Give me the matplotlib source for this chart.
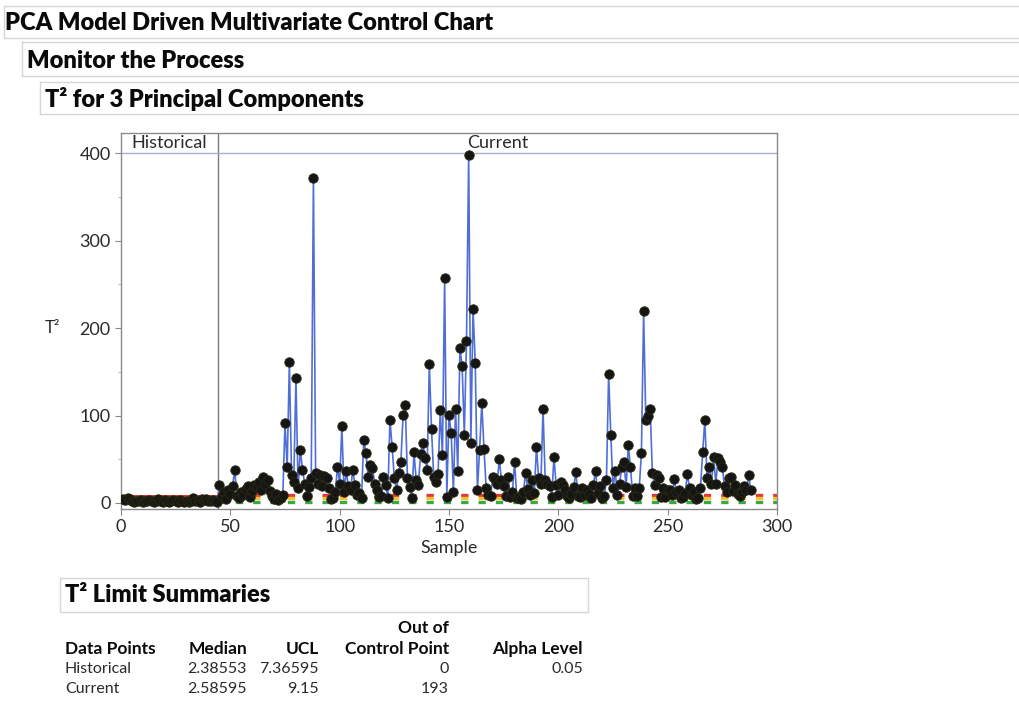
import matplotlib
matplotlib.use("Agg")
import matplotlib.pyplot as plt
from matplotlib.lines import Line2D
from matplotlib.patches import Rectangle
import numpy as np

plt.rcParams['font.family'] = ['Lato', 'DejaVu Sans']

# ---- data -------------------------------------------------------------
historical_t2 = [4.8, 3.1, 5.2, 4.6, 2.2, 1.5, 2.8, 1.9, 3.4, 0.9, 2.5, 1.7,
                 3.0, 2.1, 1.2, 2.6, 5.0, 2.0, 1.4, 3.3, 2.4, 0.8, 1.8, 2.9,
                 2.2, 1.1, 3.6, 2.7, 1.6, 2.3, 1.0, 2.5, 5.3, 1.9, 2.8, 1.3,
                 4.7, 3.9, 4.2, 2.0, 1.7, 3.2, 2.6, 1.5]

current_t2 = [
    20, 8, 12, 5, 15, 10, 19, 38, 8, 6, 12, 9, 16, 19, 7, 14, 20, 18, 24, 15,      # 45-64
    30, 22, 26, 14, 8, 5, 10, 3, 6, 9, 91, 41, 161, 32, 24, 143, 17, 61, 38, 22,   # 65-84
    8, 18, 28, 372, 34, 22, 32, 19, 31, 28, 17, 4, 6, 13, 41, 22, 88, 12, 36, 19,  # 85-104
    15, 38, 20, 9, 11, 6, 72, 57, 30, 43, 40, 22, 15, 7, 8, 30, 21, 6, 95, 64,     # 105-124
    28, 15, 34, 47, 101, 112, 28, 18, 6, 58, 26, 21, 56, 68, 51, 38, 159, 85, 30, 24,  # 125-144
    33, 106, 55, 257, 7, 101, 80, 13, 107, 37, 177, 157, 78, 185, 398, 69, 222, 160, 15, 61,  # 145-164
    114, 62, 17, 9, 8, 30, 27, 22, 50, 26, 19, 8, 30, 7, 13, 47, 6, 7, 5, 12,      # 165-184
    34, 16, 9, 26, 11, 64, 28, 22, 107, 26, 22, 19, 7, 53, 20, 9, 24, 21, 15, 8,   # 185-204
    6, 10, 18, 35, 8, 7, 17, 9, 15, 10, 6, 20, 37, 11, 19, 6, 8, 26, 147, 78,      # 205-224
    17, 36, 9, 22, 41, 47, 18, 66, 41, 8, 17, 8, 17, 57, 219, 95, 99, 108, 34, 20,  # 225-244
    32, 28, 7, 17, 7, 15, 15, 9, 27, 12, 15, 6, 7, 11, 33, 17, 9, 13, 5, 6,        # 245-264
    17, 58, 95, 29, 41, 22, 53, 22, 51, 47, 41, 19, 12, 29, 30, 14, 21, 10, 8, 12,  # 265-284
    19, 15, 32, 15,                                                                 # 285-288
]

phase_names = ["Historical", "Current"]
medians = [2.38553, 2.58595]
ucls = [7.36595, 9.15]
out_of_control = [0, 193]
alpha_level = 0.05
mid_limit_current = 5.5

x_ticks = [0, 50, 100, 150, 200, 250, 300]
y_ticks = [0, 100, 200, 300, 400]

# ---- figure -----------------------------------------------------------
W, H = 1020, 706
fig = plt.figure(figsize=(W / 100, H / 100), dpi=100)
fig.patch.set_facecolor("white")

TEXT_DARK = "#0a0a0a"
TEXT_MID = "#2a2a2a"
HEAVY = "heavy"


def fx(px):
    return px / W


def fy(py):
    return 1 - py / H


def fig_line(x0, y0, x1, y1, color="#d6d6d6", lw=1.0):
    fig.add_artist(Line2D([fx(x0), fx(x1)], [fy(y0), fy(y1)],
                          transform=fig.transFigure, color=color, lw=lw))


# outline headers
fig_line(4, 6, 1020, 6)
fig_line(4, 6, 4, 38)
fig_line(4, 38, 1020, 38)
fig_line(22, 42, 1020, 42)
fig_line(22, 42, 22, 76)
fig_line(22, 76, 1020, 76)
fig_line(40, 82, 1020, 82)
fig_line(40, 82, 40, 114)
fig_line(40, 114, 1020, 114)

HEAD_FS = 17
fig.text(fx(5), fy(23), "PCA Model Driven Multivariate Control Chart",
         fontsize=HEAD_FS, fontweight=HEAVY, va="center", ha="left", color=TEXT_DARK)
fig.text(fx(27), fy(61), "Monitor the Process",
         fontsize=HEAD_FS, fontweight=HEAVY, va="center", ha="left", color=TEXT_DARK)
fig.text(fx(45), fy(99), "T² for 3 Principal Components",
         fontsize=HEAD_FS, fontweight=HEAVY, va="center", ha="left", color=TEXT_DARK)

# ---- control chart ----------------------------------------------------
ax_l, ax_r, ax_t, ax_b = 121, 777, 133, 509
ax = fig.add_axes([fx(ax_l), fy(ax_b), fx(ax_r - ax_l), fy(ax_t) - fy(ax_b)])

n_hist = len(historical_t2)
samples = np.arange(1, n_hist + len(current_t2) + 1)
values = np.array(historical_t2 + current_t2, dtype=float)
boundary = n_hist + 0.5

y_top_band = 423
ax.set_xlim(0, 300)
ax.set_ylim(-6.9, y_top_band)

# limit lines
ax.plot([0, boundary], [ucls[0], ucls[0]], color="#d9302c", lw=2.8, zorder=2)
ax.plot([0, boundary], [medians[0], medians[0]], color="#1f7a3a", lw=2.0, zorder=2)
ax.plot([0, boundary], [-1.2, -1.2], color="#3a86c8", lw=1.6, zorder=2)
ax.plot([boundary, 300], [ucls[1], ucls[1]], color="#e23a3a", lw=2.4,
        dashes=(2.2, 3.0), zorder=2)
ax.plot([boundary, 300], [mid_limit_current, mid_limit_current], color="#f2c230",
        lw=2.4, dashes=(2.2, 3.0), zorder=2)
ax.plot([boundary, 300], [medians[1] - 1.5, medians[1] - 1.5], color="#3aa845",
        lw=2.4, dashes=(2.2, 3.0), zorder=2)

# T² series
ax.plot(samples, values, color="#4f6fd6", lw=1.2, zorder=3)
ax.plot(samples, values, linestyle="none", marker="o", markersize=6.8,
        markerfacecolor="#151515", markeredgecolor="#2a2a10", markeredgewidth=0.6,
        zorder=4)

# phase separator and header band
ax.axvline(boundary, color="#7a7a7a", lw=1.0, zorder=1)
ax.axhline(400, color="#aab0cc", lw=1.0, zorder=1)
ax.text(boundary / 2, 411.5, phase_names[0], ha="center", va="center",
        fontsize=13, color=TEXT_MID)
ax.text((boundary + 300) / 2, 411.5, phase_names[1], ha="center", va="center",
        fontsize=13, color=TEXT_MID)

ax.set_xticks(x_ticks)
ax.set_yticks(y_ticks)
ax.set_yticks([50, 150, 250, 350], minor=True)
ax.tick_params(axis="both", which="major", labelsize=13, length=4,
               color="#888888", labelcolor=TEXT_MID)
ax.tick_params(axis="y", which="minor", length=2.5, color="#aaaaaa")
for s in ax.spines.values():
    s.set_color("#8a8a8a")
    s.set_linewidth(1.0)

ax.set_xlabel("Sample", fontsize=13, color=TEXT_MID, labelpad=3)
fig.text(fx(52), fy(328), "T²", fontsize=12, color=TEXT_MID,
         ha="center", va="center")

# ---- limit summary table ---------------------------------------------
fig.add_artist(Rectangle((fx(60), fy(612)), fx(528), fy(578) - fy(612),
                         transform=fig.transFigure, fill=False,
                         edgecolor="#d6d6d6", lw=1.0))
fig.text(fx(65), fy(595), "T² Limit Summaries", fontsize=HEAD_FS,
         fontweight=HEAVY, ha="left", va="center", color=TEXT_DARK)

col_right = [247, 319, 449, 583]
hdr_y1, hdr_y2 = 628, 649
row_y = [669, 689]
hfs = 12.5
tfs = 11.5
fig.text(fx(col_right[2]), fy(hdr_y1), "Out of", fontsize=hfs, fontweight="bold",
         ha="right", va="center", color=TEXT_DARK)
fig.text(fx(65), fy(hdr_y2), "Data Points", fontsize=hfs, fontweight="bold",
         ha="left", va="center", color=TEXT_DARK)
for xr, lab in zip(col_right, ["Median", "UCL", "Control Point", "Alpha Level"]):
    fig.text(fx(xr), fy(hdr_y2), lab, fontsize=hfs, fontweight="bold",
             ha="right", va="center", color=TEXT_DARK)

for i, name in enumerate(phase_names):
    y = fy(row_y[i])
    fig.text(fx(65), y, name, fontsize=tfs, ha="left", va="center", color=TEXT_MID)
    fig.text(fx(col_right[0]), y, f"{medians[i]:g}", fontsize=tfs, ha="right",
             va="center", color=TEXT_MID)
    fig.text(fx(col_right[1]), y, f"{ucls[i]:g}", fontsize=tfs, ha="right",
             va="center", color=TEXT_MID)
    fig.text(fx(col_right[2]), y, f"{out_of_control[i]}", fontsize=tfs, ha="right",
             va="center", color=TEXT_MID)
fig.text(fx(col_right[3]), fy(row_y[0]), f"{alpha_level:g}", fontsize=tfs,
         ha="right", va="center", color=TEXT_MID)

fig.savefig("out.png", dpi=100, facecolor="white")
